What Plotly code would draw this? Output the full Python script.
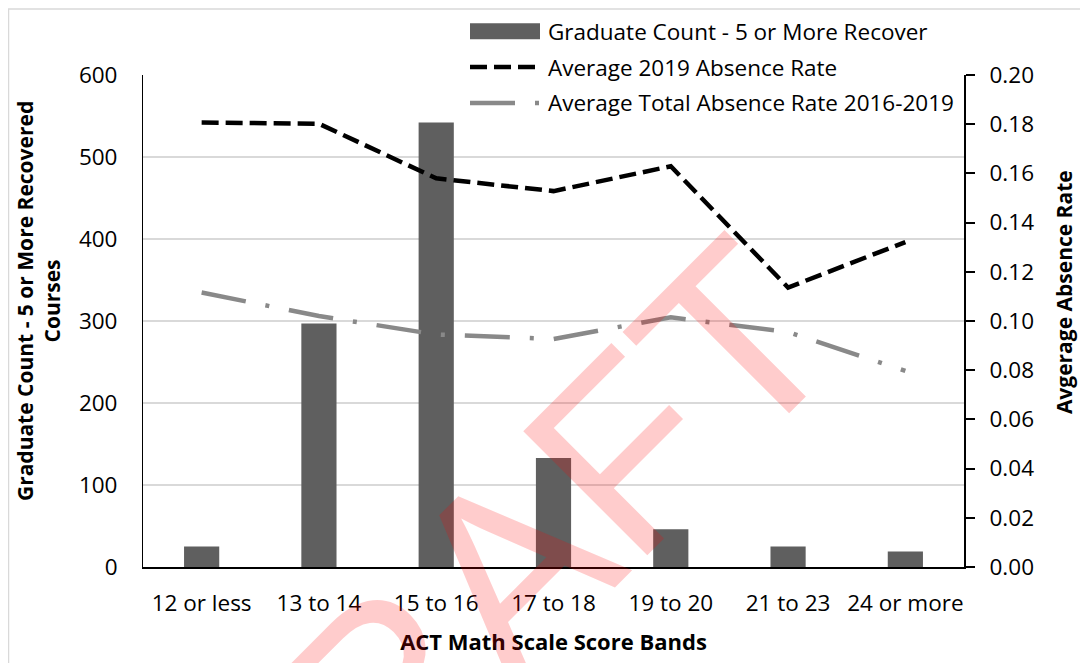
import plotly.graph_objects as go

# ---- data ----
categories = ["12 or less", "13 to 14", "15 to 16", "17 to 18", "19 to 20", "21 to 23", "24 or more"]
graduate_count = [25, 297, 542, 133, 46, 25, 19]
absence_2019 = [0.1807, 0.1802, 0.158, 0.1528, 0.1629, 0.1136, 0.1321]
absence_total = [0.1116, 0.1020, 0.0945, 0.0927, 0.1015, 0.0955, 0.0797]

bar_name = "Graduate Count - 5 or More Recover"
line1_name = "Average 2019 Absence Rate"
line2_name = "Average Total Absence Rate 2016-2019"

# the page body adds an 8px margin; lay out in on-screen pixels
OFF = 8
W, H = 1088 - OFF, 663 - OFF
L, R, T, B = 143 - OFF, 964 - OFF, 75 - OFF, 569 - OFF
FONT = "Open Sans"

def px(x):
    return (x - OFF - L) / (R - L)

def py(y):
    return (B - (y - OFF)) / (B - T)

BAR_COLOR = "#5f5f5f"
GRAY_LINE = "#898989"
DASH1 = "17px,7px"
DASH2 = "45px,20px,4px,20px"

fig = go.Figure()
fig.add_trace(go.Bar(x=categories, y=graduate_count, name=bar_name,
                     marker=dict(color=BAR_COLOR, line=dict(width=0)),
                     showlegend=False))
fig.add_trace(go.Scatter(x=categories, y=absence_2019, name=line1_name, yaxis="y2",
                         mode="lines", line=dict(color="black", width=4.5, dash=DASH1),
                         showlegend=False))
fig.add_trace(go.Scatter(x=categories, y=absence_total, name=line2_name, yaxis="y2",
                         mode="lines", line=dict(color=GRAY_LINE, width=4.5, dash=DASH2),
                         showlegend=False))

tickfont = dict(family=FONT, size=22.5, color="black")
ytitlefont = dict(family=FONT, size=21, color="black", weight="bold")
xtitlefont = dict(family=FONT, size=22, color="black", weight="bold")

fig.update_layout(
    width=W, height=H,
    margin=dict(l=L, r=W - R, t=T, b=H - B),
    paper_bgcolor="white", plot_bgcolor="white",
    bargap=0.7,
    xaxis=dict(showline=True, linecolor="black", linewidth=2, ticks="",
               tickfont=tickfont, ticklabelstandoff=15,
               title=dict(text="ACT Math Scale Score Bands", font=xtitlefont, standoff=18)),
    yaxis=dict(range=[0, 600], dtick=100, showgrid=True, gridcolor="#d9d9d9", gridwidth=1.5,
               showline=True, linecolor="black", linewidth=1, ticks="", zeroline=False,
               tickfont=tickfont, ticklabelstandoff=20),
    yaxis2=dict(range=[0, 0.2], dtick=0.02, tickformat=".2f", overlaying="y", side="right",
                showgrid=False, showline=True, linecolor="black", linewidth=2,
                ticks="outside", ticklen=9, tickwidth=1.5, tickcolor="black", zeroline=False,
                tickfont=tickfont, ticklabelstandoff=10),
)

shapes = []
annotations = []
# chart frame
shapes.append(dict(type="rect", xref="paper", yref="paper",
                   x0=px(8.5), x1=px(1086), y0=py(720), y1=py(8.8),
                   line=dict(color="#d9d9d9", width=1.5), fillcolor="rgba(0,0,0,0)", layer="below"))

# y-axis titles
annotations.append(dict(text="Graduate Count - 5 or More Recovered<br>Courses",
                        xref="paper", yref="paper", x=px(38), y=py(302),
                        xanchor="center", yanchor="middle", showarrow=False, textangle=-90,
                        font=ytitlefont))
annotations.append(dict(text="Avgerage Absence Rate",
                        xref="paper", yref="paper", x=px(1064), y=py(293),
                        xanchor="center", yanchor="middle", showarrow=False, textangle=-90,
                        font=ytitlefont))

# manual legend
sx0, sx1 = 470, 540
ly = [31, 67, 103]
shapes.append(dict(type="rect", xref="paper", yref="paper",
                   x0=px(sx0), x1=px(sx1), y0=py(ly[0] + 8), y1=py(ly[0] - 8),
                   line=dict(width=0), fillcolor=BAR_COLOR))
shapes.append(dict(type="line", xref="paper", yref="paper",
                   x0=px(sx0), x1=px(sx1), y0=py(ly[1]), y1=py(ly[1]),
                   line=dict(color="black", width=4.5, dash=DASH1)))
shapes.append(dict(type="line", xref="paper", yref="paper",
                   x0=px(sx0), x1=px(sx1), y0=py(ly[2]), y1=py(ly[2]),
                   line=dict(color=GRAY_LINE, width=4.5, dash=DASH2)))
for name, yy in zip([bar_name, line1_name, line2_name], ly):
    annotations.append(dict(text=name, xref="paper", yref="paper", x=px(546), y=py(yy),
                            xanchor="left", yanchor="middle", showarrow=False,
                            font=dict(family=FONT, size=22.5, color="black")))

# DRAFT watermark
annotations.append(dict(text="DRAFT", xref="paper", yref="paper", x=px(490), y=py(590),
                        xanchor="center", yanchor="middle", showarrow=False, textangle=-45,
                        font=dict(family="Liberation Sans", size=255, color="rgba(255,0,0,0.2)")))

fig.update_layout(shapes=shapes, annotations=annotations)
fig.write_html("out.html")
